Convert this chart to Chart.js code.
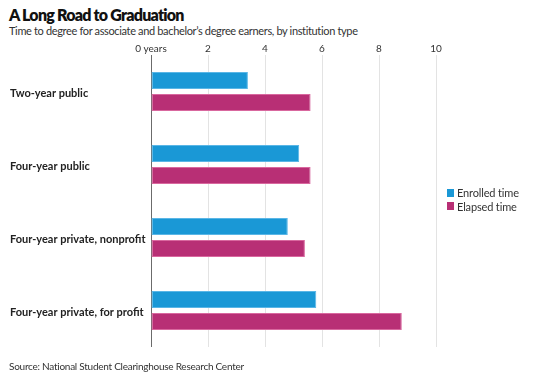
<!DOCTYPE html>
<html>
<head>
<meta charset="utf-8">
<script src="https://cdn.jsdelivr.net/npm/chart.js@4.4.1/dist/chart.umd.min.js"></script>
<style>
  html, body { margin: 0; padding: 0; background: #fff; }
  #wrap { position: relative; width: 550px; height: 379px; overflow: hidden; font-family: Lato, "Noto Sans", sans-serif; color: #222; }
  #title { position: absolute; left: 9px; top: 5px; font-size: 16px; font-weight: 800; color: #111; white-space: nowrap; }
  #subtitle { position: absolute; left: 9px; top: 24px; font-size: 11px; color: #333; white-space: nowrap; }
  #source { position: absolute; left: 9px; top: 360px; font-size: 10px; color: #333; white-space: nowrap; }
  #legend { position: absolute; left: 447px; top: 186px; font-size: 11px; color: #333; }
  .li { display: flex; align-items: center; height: 13.5px; white-space: nowrap; }
  .sw { width: 7px; height: 8px; margin-right: 3px; }
  canvas { position: absolute; left: 0; top: 0; }
</style>
</head>
<body>
<div id="wrap">
  <div id="title">A Long Road to Graduation</div>
  <div id="subtitle">Time to degree for associate and bachelor’s degree earners, by institution type</div>
  <canvas id="c" width="550" height="379"></canvas>
  <div id="legend"></div>
  <div id="source">Source: National Student Clearinghouse Research Center</div>
</div>
<script>
const categories = ["Two-year public", "Four-year public", "Four-year private, nonprofit", "Four-year private, for profit"];
const enrolledTime = [3.4, 5.2, 4.8, 5.8];
const elapsedTime = [5.6, 5.6, 5.4, 8.8];
const seriesNames = ["Enrolled time", "Elapsed time"];
const xTicks = [0, 2, 4, 6, 8, 10];

const fills = ["#1a98d6", "#b82f75"];
const borders = ["#5ab6e6", "#d9689f"];

const data = {
  labels: categories,
  datasets: [
    { label: seriesNames[0], data: enrolledTime, backgroundColor: fills[0], borderColor: borders[0], borderWidth: 1, borderSkipped: false, barPercentage: 0.77, categoryPercentage: 0.6 },
    { label: seriesNames[1], data: elapsedTime, backgroundColor: fills[1], borderColor: borders[1], borderWidth: 1, borderSkipped: false, barPercentage: 0.77, categoryPercentage: 0.6 }
  ]
};

new Chart(document.getElementById('c'), {
  type: 'bar',
  data: data,
  options: {
    indexAxis: 'y',
    responsive: false,
    animation: false,
    layout: { padding: { left: 10, right: 114, top: 0, bottom: 32 } },
    plugins: { legend: { display: false }, tooltip: { enabled: false }, title: { display: false } },
    scales: {
      x: {
        position: 'top',
        min: xTicks[0], max: xTicks[xTicks.length - 1],
        afterBuildTicks: (s) => { s.ticks = xTicks.map(v => ({ value: v })); },
        afterFit: (s) => { s.height = 55; },
        border: { display: false },
        grid: {
          drawTicks: false,
          color: (ctx) => ctx.tick && ctx.tick.value === 0 ? '#6b6b6b' : '#e3e3e3',
          lineWidth: 1
        },
        ticks: {
          padding: 0,
          color: '#333',
          font: { family: 'Lato', size: 10 },
          callback: (v) => v === 0 ? '0 years' : String(v)
        }
      },
      y: {
        afterFit: (s) => { s.width = 141; },
        border: { display: false },
        grid: { display: false, drawTicks: false },
        ticks: {
          crossAlign: 'far',
          labelOffset: 2,
          color: '#222',
          font: { family: 'Lato', size: 11, weight: 'bold' }
        }
      }
    }
  }
});

const lg = document.getElementById('legend');
seriesNames.forEach((n, i) => {
  const d = document.createElement('div');
  d.className = 'li';
  d.innerHTML = '<span class="sw" style="background:' + fills[i] + '"></span><span class="lt">' + n + '</span>';
  lg.appendChild(d);
});

// fit text widths to the reference's text extents via letter-spacing
function fit(el, target) {
  const n = el.textContent.length;
  const w = el.getBoundingClientRect().width;
  el.style.letterSpacing = ((target - w) / n).toFixed(3) + 'px';
}
fit(document.getElementById('title'), 175);
fit(document.getElementById('subtitle'), 349);
fit(document.getElementById('source'), 235);
fit(document.querySelector('.lt'), 62);
document.querySelectorAll('.lt')[1].style.letterSpacing = document.querySelector('.lt').style.letterSpacing;
</script>
</body>
</html>
